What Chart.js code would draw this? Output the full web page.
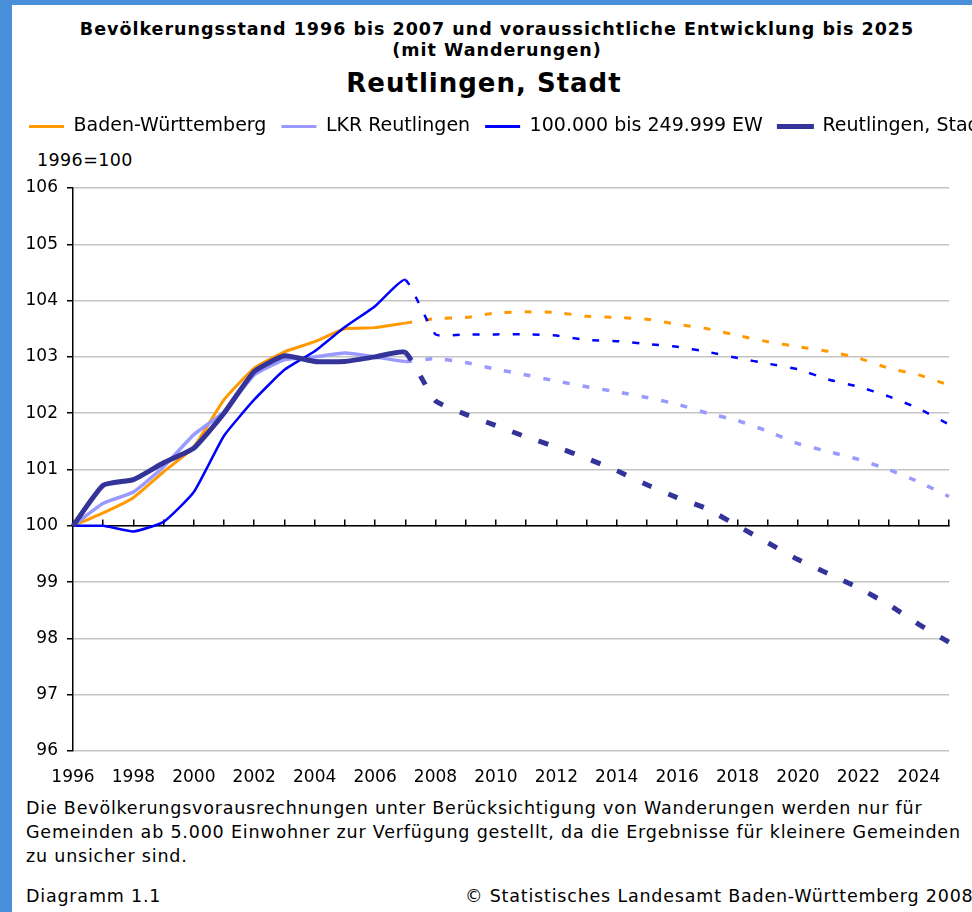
<!DOCTYPE html>
<html>
<head>
<meta charset="utf-8">
<script src="https://cdn.jsdelivr.net/npm/chart.js@4"></script>
<style>
  html, body { margin: 0; padding: 0; overflow: hidden; background: #fff; }
  body { width: 972px; height: 912px; position: relative; font-family: "DejaVu Sans", sans-serif; color: #000; }
  .rand-l { position: absolute; left: 0; top: 0; width: 12px; height: 912px; background: #4a8fd9; z-index: 5; }
  .rand-o { position: absolute; left: 0; top: 0; width: 972px; height: 5px; background: #4a8fd9; z-index: 5; }
  .titel { position: absolute; left: 12px; width: 970px; top: 19px; text-align: center; font-weight: bold; font-size: 17.5px; letter-spacing: 1px; line-height: 21px; white-space: nowrap; }
  .ort { position: absolute; left: 0; width: 968px; top: 68px; text-align: center; font-weight: bold; font-size: 26px; letter-spacing: 1px; line-height: 30px; }
  .basis { position: absolute; left: 37px; top: 150px; font-size: 17.5px; letter-spacing: 0.4px; line-height: 20px; }
  #wrap { position: absolute; left: 12px; top: 100px; }
  .fuss { position: absolute; left: 26px; top: 796px; font-size: 17.5px; letter-spacing: 0.8px; line-height: 24px; white-space: nowrap; }
  .diag { position: absolute; left: 26px; top: 885px; font-size: 17.5px; letter-spacing: 0.8px; line-height: 22px; }
  .quelle { position: absolute; left: 465px; top: 885px; font-size: 17.5px; letter-spacing: 0.8px; line-height: 22px; white-space: nowrap; }
</style>
</head>
<body>
<div class="rand-l"></div>
<div class="rand-o"></div>
<div class="titel">Bevölkerungsstand 1996 bis 2007 und voraussichtliche Entwicklung bis 2025<br>(mit Wanderungen)</div>
<div class="ort">Reutlingen, Stadt</div>
<div class="basis">1996=100</div>
<div id="wrap"><canvas id="grafico" width="1007" height="690"></canvas></div>
<div class="fuss">Die Bevölkerungsvorausrechnungen unter Berücksichtigung von Wanderungen werden nur für<br>Gemeinden ab 5.000 Einwohner zur Verfügung gestellt, da die Ergebnisse für kleinere Gemeinden<br>zu unsicher sind.</div>
<div class="diag">Diagramm 1.1</div>
<div class="quelle">© Statistisches Landesamt Baden-Württemberg 2008</div>

<script>
// Jahre (1996-2007 Bestand, danach Vorausrechnung)
const jahre = ['1996','1997','1998','1999','2000','2001','2002','2003','2004','2005',
  '2006','2007','2008','2009','2010','2011','2012','2013','2014','2015',
  '2016','2017','2018','2019','2020','2021','2022','2023','2024','2025'];

const badenWuerttemberg = [100, 100.23, 100.5, 100.96, 101.4, 102.24, 102.8, 103.09, 103.27, 103.5,
  103.52, 103.6, 103.68, 103.7, 103.78, 103.8, 103.79, 103.72, 103.7, 103.67,
  103.58, 103.5, 103.38, 103.27, 103.18, 103.1, 102.98, 102.8, 102.68, 102.5];

const lkrReutlingen = [100, 100.4, 100.6, 101.05, 101.62, 102.02, 102.68, 102.95, 103.0, 103.07,
  103.0, 102.92, 102.97, 102.9, 102.78, 102.68, 102.57, 102.47, 102.38, 102.28,
  102.16, 102.0, 101.87, 101.68, 101.46, 101.32, 101.18, 101.0, 100.78, 100.52];

const gemeinden100k = [100, 100.0, 99.9, 100.07, 100.6, 101.6, 102.24, 102.77, 103.1, 103.53,
  103.9, 104.37, 103.4, 103.4, 103.4, 103.4, 103.38, 103.3, 103.28, 103.23,
  103.18, 103.09, 102.98, 102.88, 102.78, 102.6, 102.47, 102.3, 102.08, 101.8];

const reutlingenStadt = [100, 100.72, 100.82, 101.12, 101.38, 102.0, 102.74, 103.02, 102.92, 102.92,
  103.0, 103.08, 102.22, 101.98, 101.78, 101.58, 101.4, 101.2, 100.98, 100.73,
  100.5, 100.3, 100.0, 99.7, 99.4, 99.15, 98.9, 98.6, 98.25, 97.93];

const yMin = 96;
const yMax = 106;

// ab 2007 gestrichelt
const ab = jahre.indexOf('2007');
const gestrichelt = (muster) => ({
  borderDash: ctx => ctx.p0DataIndex >= ab ? muster : undefined
});

const linie = (label, data, farbe, breite, muster, order) => ({
  label: label,
  data: data,
  borderColor: farbe,
  backgroundColor: farbe,
  borderWidth: breite,
  pointRadius: 0,
  tension: 0.15,
  borderCapStyle: 'butt',
  order: order,
  segment: gestrichelt(muster)
});

Chart.defaults.font.family = '"DejaVu Sans", sans-serif';
Chart.defaults.color = '#000';

const grafico = new Chart(document.getElementById('grafico'), {
  type: 'line',
  data: {
    labels: jahre,
    datasets: [
      linie('Baden-Württemberg', badenWuerttemberg, '#ff9900', 3, [7, 13], 4),
      linie('LKR Reutlingen', lkrReutlingen, '#9999ff', 3.5, [7, 13], 3),
      linie('100.000 bis 249.999 EW', gemeinden100k, '#0000ff', 2.5, [7, 13], 2),
      linie('Reutlingen, Stadt', reutlingenStadt, '#333399', 5, [10, 18], 1)
    ]
  },
  options: {
    responsive: false,
    animation: false,
    devicePixelRatio: 1,
    layout: { padding: { left: 2, top: 2, right: 0, bottom: 0 } },
    plugins: {
      tooltip: { enabled: false },
      legend: {
        position: 'top',
        align: 'start',
        labels: {
          boxWidth: 35,
          boxHeight: 3,
          padding: 15,
          font: { size: 19 },
          color: '#000',
          sort: (a, b) => a.datasetIndex - b.datasetIndex,
          generateLabels: chart => Chart.defaults.plugins.legend.labels.generateLabels(chart).map(l => ({
            ...l,
            fillStyle: l.strokeStyle,
            lineWidth: l.datasetIndex === 3 ? 2 : 0,
            lineDash: []
          }))
        }
      }
    },
    scales: {
      x: {
        type: 'category',
        position: 'bottom',
        offset: false,
        grid: { display: false, drawTicks: false },
        border: { display: false },
        ticks: {
          autoSkip: false,
          maxRotation: 0,
          padding: 16,
          font: { size: 17 },
          color: '#000',
          callback: (v, i) => i % 2 === 0 ? jahre[i] : ''
        },
        afterFit: s => { s.height = 39; }
      },
      // Achse bei 100 mit Teilstrichen nach unten
      x2: {
        type: 'category',
        position: { y: 100 },
        offset: false,
        grid: { drawOnChartArea: false, drawTicks: true, tickLength: -7, tickColor: '#000', lineWidth: 1.5 },
        border: { color: '#000', width: 1.5 },
        ticks: { display: false, autoSkip: false },
        afterFit: s => { s.height = 0; }
      },
      oben: {
        type: 'category',
        position: 'top',
        grid: { display: false },
        border: { display: false },
        ticks: { display: false },
        afterFit: s => { s.height = 42; }
      },
      y: {
        min: yMin,
        max: yMax,
        position: 'left',
        ticks: { stepSize: 1, font: { size: 17 }, color: '#000', padding: 9 },
        grid: { color: '#c4c4c4', lineWidth: 1.5, tickColor: '#000', tickLength: 6 },
        border: { color: '#000', width: 1.5 },
        afterFit: s => { s.width = 59; }
      },
      rechts: {
        type: 'linear',
        position: 'right',
        grid: { display: false },
        border: { display: false },
        ticks: { display: false },
        afterFit: s => { s.width = 70; }
      }
    }
  }
});
</script>
</body>
</html>
